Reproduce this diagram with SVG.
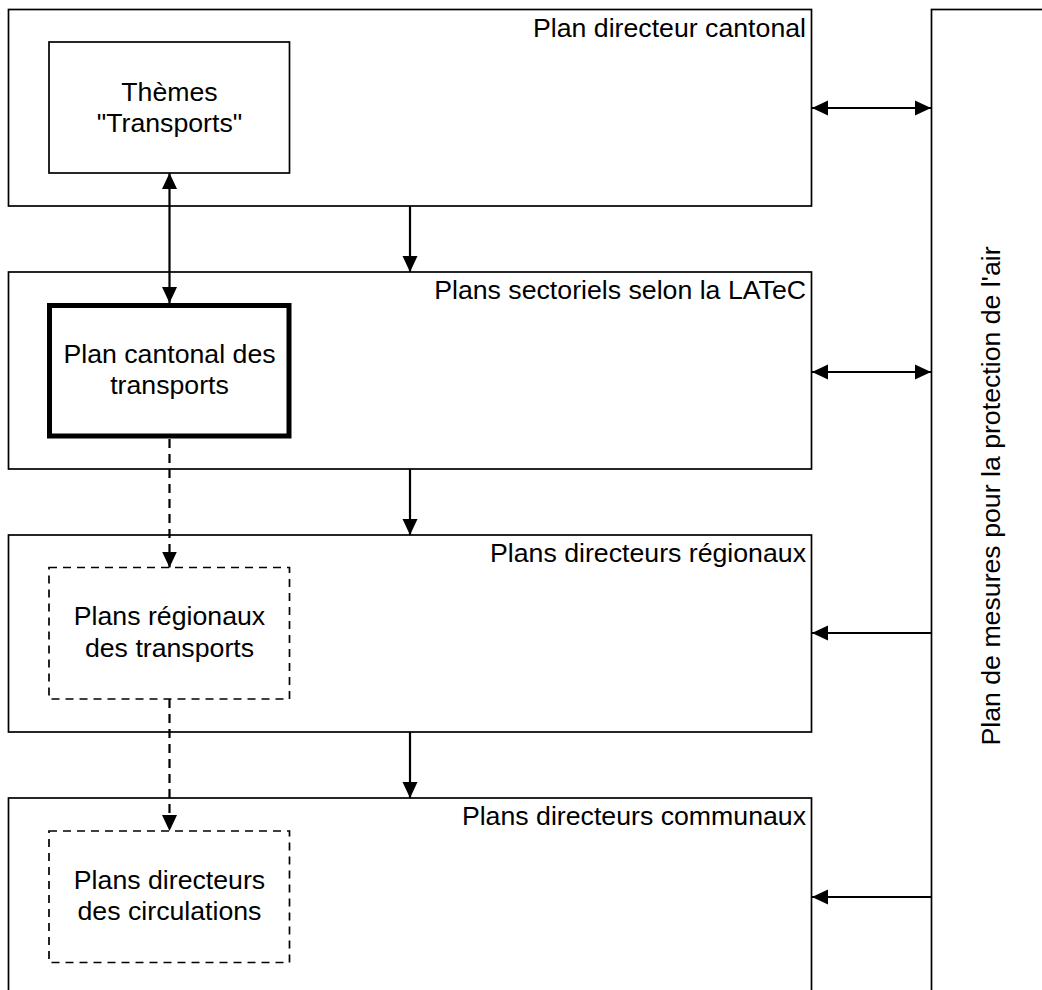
<svg xmlns="http://www.w3.org/2000/svg" width="1042" height="990" viewBox="0 0 1042 990">
<defs>
<style>
text{font-family:"Liberation Sans",Arial,sans-serif;font-size:26.7px;fill:#000}
.t{text-anchor:end}
.c{text-anchor:middle}
.outer{fill:#fff;stroke:#000;stroke-width:1.7}
.inner{fill:#fff;stroke:#000;stroke-width:1.7}
.thick{fill:#fff;stroke:#000;stroke-width:5}
.dash{fill:#fff;stroke:#000;stroke-width:1.7;stroke-dasharray:8 6}
.ln{stroke:#000;stroke-width:2.2;fill:none}
.dl{stroke:#000;stroke-width:2.2;fill:none;stroke-dasharray:9 6}
</style>
<marker id="ah" markerUnits="userSpaceOnUse" markerWidth="17" markerHeight="17" refX="16" refY="8" orient="auto-start-reverse">
<path d="M0,0.5 L16,8 L0,15.5 Z" fill="#000"/>
</marker>
</defs>
<rect width="1042" height="990" fill="#fff"/>
<g id="air">
<rect class="outer" x="931.5" y="9.5" width="130" height="1000"/>
<text class="c" transform="translate(999.5,496) rotate(-90)">Plan de mesures pour la protection de l'air</text>
</g>
<g id="pdc">
<rect class="outer" x="8.5" y="9.5" width="803" height="196.5"/>
<text class="t" x="806" y="36.5">Plan directeur cantonal</text>
</g>
<g id="themes">
<rect class="inner" x="49" y="42" width="240.5" height="131"/>
<text class="c" x="169.5" y="101">Thèmes</text>
<text class="c" x="169.5" y="132">"Transports"</text>
</g>
<g id="sect">
<rect class="outer" x="8.5" y="272" width="803" height="197"/>
<text class="t" x="806" y="298.5">Plans sectoriels selon la LATeC</text>
</g>
<g id="pct">
<rect class="thick" x="49.5" y="305.5" width="239.5" height="130.5"/>
<text class="c" x="169.5" y="363">Plan cantonal des</text>
<text class="c" x="169.5" y="394">transports</text>
</g>
<g id="pdr">
<rect class="outer" x="8.5" y="535" width="803" height="197"/>
<text class="t" x="806" y="561.5">Plans directeurs régionaux</text>
</g>
<g id="prt">
<rect class="dash" x="49" y="567.5" width="240.5" height="131.5"/>
<text class="c" x="169.5" y="625">Plans régionaux</text>
<text class="c" x="169.5" y="657">des transports</text>
</g>
<g id="pdcom">
<rect class="outer" x="8.5" y="798" width="803" height="210"/>
<text class="t" x="806" y="824.5">Plans directeurs communaux</text>
</g>
<g id="pdcirc">
<rect class="dash" x="49" y="831" width="240.5" height="131.5"/>
<text class="c" x="169.5" y="889">Plans directeurs</text>
<text class="c" x="169.5" y="920">des circulations</text>
</g>
<g id="connectors">
<line class="ln" x1="410" y1="206" x2="410" y2="272" marker-end="url(#ah)"/>
<line class="ln" x1="410" y1="469" x2="410" y2="535" marker-end="url(#ah)"/>
<line class="ln" x1="410" y1="732" x2="410" y2="798" marker-end="url(#ah)"/>
<line class="ln" x1="169.5" y1="173" x2="169.5" y2="303" marker-start="url(#ah)" marker-end="url(#ah)"/>
<line class="dl" x1="169.5" y1="439" x2="169.5" y2="567.5" marker-end="url(#ah)"/>
<line class="dl" x1="169.5" y1="699" x2="169.5" y2="831" marker-end="url(#ah)"/>
<line class="ln" x1="812" y1="108" x2="931" y2="108" marker-start="url(#ah)" marker-end="url(#ah)"/>
<line class="ln" x1="812" y1="372" x2="931" y2="372" marker-start="url(#ah)" marker-end="url(#ah)"/>
<line class="ln" x1="931" y1="633" x2="812" y2="633" marker-end="url(#ah)"/>
<line class="ln" x1="931" y1="897" x2="812" y2="897" marker-end="url(#ah)"/>
</g>
</svg>
